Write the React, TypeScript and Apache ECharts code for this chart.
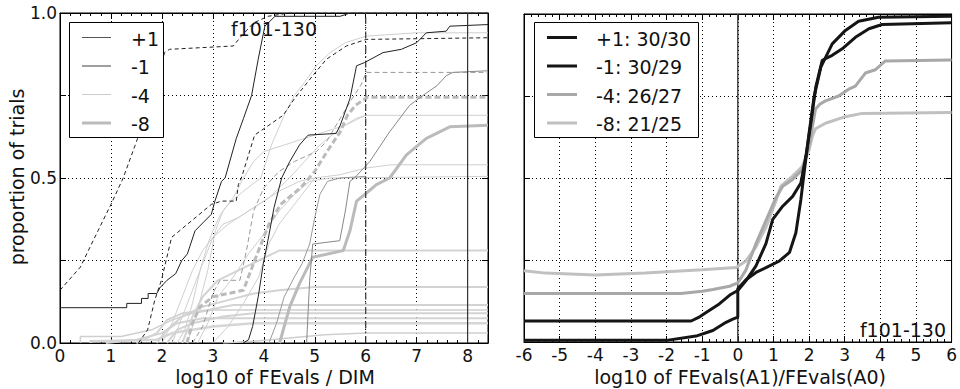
import React, { useEffect, useRef } from "react";
import * as echarts from "echarts";

const FONT = "'DejaVu Sans', 'Liberation Sans', sans-serif";

// ---------- Left panel: ECDF of run lengths (log10 of FEvals / DIM) ----------
const leftPlusSolid = [[0,0.107],[1.31,0.107],[1.31,0.12],[1.6,0.12],[1.6,0.135],[1.73,0.135],[1.73,0.15],[1.9,0.15],[1.96,0.167],[2.1,0.19],[2.27,0.21],[2.39,0.25],[2.5,0.27],[2.65,0.34],[2.97,0.39],[3.04,0.43],[3.17,0.49],[3.24,0.5],[3.46,0.62],[3.6,0.68],[3.76,0.75],[3.89,0.86],[4.02,0.96],[4.22,0.99],[5.5,0.99],[5.69,1.0],[8.4,1.0]];
const leftPlusDashed = [[0,0.16],[0.4,0.23],[0.65,0.31],[1.0,0.42],[1.24,0.5],[1.5,0.61],[1.8,0.74],[2.0,0.84],[2.05,0.88],[2.15,0.89],[3.4,0.9],[3.56,0.93],[3.8,0.97],[4.08,0.99],[4.5,1.0],[8.4,1.0]];
const leftMinus1Solid = [[3.6,0],[3.7,0.01],[3.78,0.05],[3.89,0.14],[3.99,0.24],[4.08,0.31],[4.2,0.41],[4.35,0.5],[4.51,0.55],[4.7,0.6],[4.87,0.63],[5.42,0.635],[5.5,0.66],[5.69,0.74],[5.82,0.84],[5.98,0.85],[6.34,0.88],[6.7,0.89],[7.0,0.91],[7.19,0.94],[7.58,0.945],[7.65,0.96],[8.4,0.965]];
const leftMinus1Dashed = [[1.54,0],[1.72,0.04],[1.86,0.13],[1.99,0.19],[2.19,0.32],[2.58,0.37],[2.97,0.42],[3.17,0.43],[3.46,0.43],[3.5,0.48],[3.56,0.5],[3.82,0.63],[4.1,0.66],[4.38,0.69],[4.6,0.74],[4.96,0.81],[5.23,0.86],[5.62,0.9],[6.01,0.92],[8.4,0.925]];
const leftGrayDashed = [[2.6,0],[2.8,0.05],[3.0,0.15],[3.14,0.19],[3.53,0.19],[3.66,0.28],[3.8,0.4],[4.0,0.47],[4.3,0.52],[4.6,0.55],[5.03,0.58],[5.23,0.61],[5.42,0.66],[5.69,0.73],[5.9,0.78],[6.01,0.82],[8.4,0.82]];
const leftThickDashed = [[2.49,0],[2.6,0.06],[2.75,0.11],[3.0,0.14],[3.6,0.16],[3.87,0.27],[4.1,0.36],[4.33,0.42],[4.72,0.47],[5.0,0.52],[5.24,0.58],[5.5,0.64],[5.64,0.69],[5.8,0.72],[6.03,0.745],[8.4,0.745]];
const leftThickSolid = [[4.31,0],[4.4,0.05],[4.51,0.11],[4.7,0.18],[4.96,0.26],[5.56,0.28],[5.69,0.34],[5.82,0.43],[5.98,0.45],[6.21,0.48],[6.47,0.5],[6.8,0.57],[7.19,0.62],[7.65,0.655],[8.4,0.66]];
const leftGraySolidC = [[4.84,0],[4.9,0.19],[4.96,0.3],[5.49,0.31],[5.6,0.4],[5.69,0.49],[5.78,0.5],[6.08,0.55],[6.47,0.64],[6.86,0.72],[7.12,0.75],[7.4,0.78],[7.58,0.81],[7.71,0.82],[8.4,0.825]];
const leftGraySolidD = [[4.1,0],[4.25,0.06],[4.4,0.14],[4.6,0.2],[4.75,0.24],[4.9,0.3],[5.0,0.38],[5.1,0.45],[5.25,0.49],[5.5,0.5],[6.0,0.505]];

const light1 = [[2.3,0],[2.45,0.04],[2.6,0.12],[2.75,0.22],[2.9,0.3],[3.0,0.34],[3.15,0.39],[3.3,0.42],[3.6,0.46],[3.94,0.5],[4.15,0.6],[4.4,0.69],[4.6,0.75],[4.8,0.79],[5.03,0.84],[5.3,0.88],[5.6,0.91],[6.01,0.93],[7.0,0.94],[8.4,0.94]];
const light2 = [[2.0,0],[2.2,0.06],[2.4,0.14],[2.6,0.22],[2.8,0.28],[3.0,0.32],[3.3,0.36],[3.7,0.4],[4.1,0.44],[4.5,0.5],[4.8,0.55],[5.1,0.6],[5.5,0.65],[5.8,0.68],[6.0,0.69],[8.4,0.69]];
const light3 = [[2.2,0],[2.4,0.08],[2.6,0.16],[2.8,0.24],[3.0,0.32],[3.2,0.36],[3.5,0.38],[3.9,0.42],[4.3,0.46],[4.7,0.49],[5.0,0.5],[5.5,0.51],[6.0,0.53],[6.5,0.54],[8.4,0.54]];
const light4 = [[2.7,0],[2.9,0.06],[3.1,0.14],[3.4,0.2],[3.7,0.27],[4.0,0.33],[4.3,0.4],[4.6,0.45],[4.9,0.49],[5.3,0.5],[8.4,0.505]];
const light5 = [[2.4,0],[2.6,0.08],[2.8,0.14],[3.1,0.19],[3.5,0.22],[3.9,0.25],[4.3,0.28],[8.4,0.28]];
const light6 = [[1.9,0],[2.1,0.04],[2.4,0.08],[2.8,0.11],[3.3,0.13],[3.8,0.15],[4.3,0.16],[5.0,0.17],[8.4,0.17]];
const light7 = [[1.5,0],[1.9,0.03],[2.1,0.07],[2.4,0.09],[2.9,0.1],[3.4,0.115],[8.4,0.115]];
const light8 = [[0.4,0],[0.4,0.02],[1.2,0.02],[1.8,0.04],[2.2,0.07],[2.6,0.09],[3.0,0.1],[8.4,0.1]];
const light9 = [[2.1,0],[2.3,0.04],[2.6,0.06],[3.2,0.08],[3.8,0.09],[8.4,0.09]];
const light10 = [[0.9,0],[1.5,0.01],[2.0,0.03],[2.3,0.06],[2.8,0.075],[8.4,0.075]];
const light11 = [[0.6,0],[0.6,0.005],[1.9,0.01],[2.2,0.03],[3.0,0.05],[3.8,0.06],[8.4,0.06]];
const light12 = [[3.2,0],[3.8,0.005],[4.5,0.015],[5.2,0.025],[6.0,0.03],[8.4,0.03]];
const light13 = [[2.5,0],[2.7,0.1],[2.9,0.22],[3.05,0.34],[3.2,0.4],[3.4,0.44],[3.6,0.5],[3.8,0.55],[4.0,0.58],[4.4,0.6],[5.0,0.63],[5.6,0.66],[6.0,0.69]];
const light14 = [[3.0,0],[3.3,0.05],[3.6,0.12],[3.9,0.2],[4.1,0.3],[4.3,0.36],[4.5,0.4],[4.7,0.44],[5.0,0.5]];

const leftDashDotX = [6];
const leftSolidX = [8];

// ---------- Right panel: ECDF of run length ratios ----------
const rightPlus1 = [[-6,0.005],[-2,0.005],[-1.17,0.018],[-0.7,0.035],[-0.33,0.06],[-0.14,0.07],[0,0.076],[0,0.162],[0.23,0.19],[0.51,0.212],[0.89,0.232],[1.17,0.247],[1.45,0.273],[1.63,0.333],[1.77,0.434],[1.86,0.515],[2.0,0.636],[2.14,0.747],[2.33,0.838],[2.65,0.909],[3.02,0.95],[3.39,0.978],[3.95,0.99],[6,0.993]];
const rightMinus1 = [[-6,0.064],[-1.31,0.064],[-1.1,0.075],[-0.89,0.09],[-0.52,0.116],[-0.2,0.145],[0,0.157],[0.25,0.19],[0.51,0.232],[0.79,0.3],[0.98,0.374],[1.26,0.414],[1.54,0.444],[1.77,0.485],[1.91,0.566],[2.05,0.667],[2.19,0.778],[2.37,0.859],[2.65,0.874],[2.93,0.894],[3.3,0.929],[3.68,0.955],[4.05,0.968],[6,0.973]];
const rightMinus4 = [[-6,0.148],[-1.6,0.148],[-1.0,0.155],[-0.7,0.16],[-0.23,0.17],[0,0.18],[0.23,0.22],[0.51,0.3],[0.79,0.37],[1.07,0.44],[1.26,0.475],[1.53,0.495],[1.81,0.525],[2.0,0.6],[2.1,0.66],[2.18,0.71],[2.3,0.725],[2.46,0.735],[2.83,0.75],[3.1,0.77],[3.3,0.78],[3.58,0.82],[3.86,0.83],[4.14,0.857],[6,0.86]];
const rightMinus8 = [[-6,0.217],[-5.4,0.21],[-4,0.204],[-2.6,0.21],[-1,0.22],[-0.05,0.227],[0.23,0.247],[0.51,0.29],[0.79,0.35],[1.07,0.43],[1.21,0.475],[1.53,0.505],[1.81,0.535],[2.0,0.585],[2.1,0.63],[2.18,0.65],[2.46,0.667],[3.02,0.687],[3.49,0.697],[6,0.7]];
const rightZeroX = [0];

const leftLegend = ["+1", "-1", "-4", "-8"];
const rightLegend = ["+1: 30/30", "-1: 30/29", "-4: 26/27", "-8: 21/25"];

function App() {
  const ref = useRef<HTMLDivElement>(null);
  useEffect(() => {
    document.body.style.margin = "0";
    const chart = echarts.init(ref.current!, null, { renderer: "svg" });

    const ln = (data: number[][], color: string, width: number, type: any, panel: number, z = 2) => ({
      type: "line",
      xAxisIndex: panel === 0 ? 0 : 2,
      yAxisIndex: panel === 0 ? 0 : 2,
      data,
      showSymbol: false,
      symbol: "none",
      silent: true,
      z,
      lineStyle: { color, width, type, cap: "butt" },
    });

    const lightC = "#cfcfcf";
    const series: any[] = [
      ln(light12, lightC, 1.5, "solid", 0),
      ln(light11, "#d6d6d6", 2.5, "solid", 0),
      ln(light10, "#d3d3d3", 2, "solid", 0),
      ln(light9, "#d3d3d3", 2, "solid", 0),
      ln(light8, lightC, 1.5, "solid", 0),
      ln(light7, "#d3d3d3", 2, "solid", 0),
      ln(light6, "#d3d3d3", 2, "solid", 0),
      ln(light5, "#d3d3d3", 2, "solid", 0),
      ln(light4, lightC, 1, "solid", 0),
      ln(light3, lightC, 1, "solid", 0),
      ln(light2, lightC, 1, "solid", 0),
      ln(light1, lightC, 1, "solid", 0),
      ln(light13, lightC, 1, "solid", 0),
      ln(light14, lightC, 1, "solid", 0),
      ln(leftThickSolid, "#bbbbbb", 3, "solid", 0, 3),
      ln(leftThickDashed, "#bbbbbb", 3, [6, 3], 0, 3),
      ln(leftGraySolidD, "#999999", 1, "solid", 0, 3),
      ln(leftGraySolidC, "#888888", 1, "solid", 0, 3),
      ln(leftGrayDashed, "#999999", 1, [5, 3], 0, 3),
      ln(leftMinus1Dashed, "#222222", 1, [4, 3], 0, 4),
      ln(leftPlusDashed, "#222222", 1, [4, 3], 0, 4),
      ln(leftMinus1Solid, "#222222", 1, "solid", 0, 4),
      ln(leftPlusSolid, "#222222", 1, "solid", 0, 4),
      ...leftDashDotX.map((x) => ln([[x, 0], [x, 1]], "#333333", 1.2, [7, 3, 1.5, 3], 0, 5)),
      ...leftSolidX.map((x) => ln([[x, 0], [x, 1]], "#333333", 1.2, "solid", 0, 5)),
      ...rightZeroX.map((x) => ln([[x, 0], [x, 1]], "#444444", 1.5, "solid", 1, 2)),
      ln(rightMinus8, "#c0c0c0", 3, "solid", 1, 3),
      ln(rightMinus4, "#a8a8a8", 3, "solid", 1, 3),
      ln(rightMinus1, "#151515", 3, "solid", 1, 4),
      ln(rightPlus1, "#151515", 3, "solid", 1, 4),
    ];

    const dotted = { show: true, lineStyle: { color: "#000", width: 1, type: [1, 3] } };
    const tick = { show: true, inside: true, length: 6, lineStyle: { color: "#000", width: 1 } };
    const minor = (n: number) => ({ show: true, splitNumber: n, length: 3, lineStyle: { color: "#000", width: 1 } });
    const axLine = { show: true, onZero: false, lineStyle: { color: "#000", width: 1 } };
    const tickFont = { fontSize: 17, lineHeight: 17, color: "#111", fontFamily: FONT };

    const xBase = (grid: number, min: number, max: number, pos: string, labels: boolean) => ({
      type: "value",
      gridIndex: grid,
      min,
      max,
      interval: 1,
      position: pos,
      axisLine: axLine,
      axisTick: tick,
      minorTick: minor(5),
      splitLine: labels ? dotted : { show: false },
      axisLabel: labels
        ? { show: true, margin: 4, ...tickFont, formatter: (v: number) => (Math.abs(v - Math.round(v)) < 1e-6 ? String(Math.round(v)) : "") }
        : { show: false },
    });
    const yBase = (grid: number, pos: string, labels: boolean) => ({
      type: "value",
      gridIndex: grid,
      min: 0,
      max: 1,
      interval: 0.25,
      position: pos,
      axisLine: axLine,
      axisTick: tick,
      splitLine: pos === "left" ? dotted : { show: false },
      axisLabel: labels
        ? { show: true, margin: 3, ...tickFont, formatter: (v: number) => (Math.abs(v * 2 - Math.round(v * 2)) < 1e-6 ? v.toFixed(1) : "") }
        : { show: false },
    });

    const txt = (text: string, x: number, y: number, align = "center", size = 19, extra: any = {}) => ({
      type: "text",
      x,
      y,
      z: 100,
      ...extra,
      style: { text, fontSize: size, lineHeight: size, fontFamily: FONT, fill: "#111", textAlign: align, textVerticalAlign: "middle" },
    });

    const leftStyles = [
      { c: "#555555", w: 1 },
      { c: "#888888", w: 1.6 },
      { c: "#cccccc", w: 1 },
      { c: "#bbbbbb", w: 3 },
    ];
    const rightStyles = [
      { c: "#151515", w: 3 },
      { c: "#151515", w: 3 },
      { c: "#a8a8a8", w: 3 },
      { c: "#c0c0c0", w: 3 },
    ];
    const legY = [37.5, 66, 94.5, 123];

    const graphic: any[] = [
      txt("proportion of trials", 17, 177, "center", 19, { rotation: Math.PI / 2 }),
      txt("log10 of FEvals / DIM", 275, 376.5),
      txt("log10 of FEvals(A1)/FEvals(A0)", 740, 376.5),
      txt("f101-130", 274, 29),
      txt("f101-130", 946, 330, "right"),
      { type: "rect", z: 99, shape: { x: 69.5, y: 22.5, width: 94, height: 115 }, style: { fill: "#fff", stroke: "#000", lineWidth: 1 } },
      { type: "rect", z: 99, shape: { x: 534.5, y: 22.5, width: 164, height: 115 }, style: { fill: "#fff", stroke: "#000", lineWidth: 1 } },
      ...leftLegend.flatMap((t, i) => [
        { type: "line", z: 100, shape: { x1: 82, y1: legY[i], x2: 111, y2: legY[i] }, style: { stroke: leftStyles[i].c, lineWidth: leftStyles[i].w } },
        txt(t, 131, legY[i] + 1, "left"),
      ]),
      ...rightLegend.flatMap((t, i) => [
        { type: "line", z: 100, shape: { x1: 547, y1: legY[i], x2: 577, y2: legY[i] }, style: { stroke: rightStyles[i].c, lineWidth: rightStyles[i].w } },
        txt(t, 596, legY[i] + 1, "left"),
      ]),
    ];

    chart.setOption({
      animation: false,
      backgroundColor: "#fff",
      grid: [
        { left: 60, top: 13, width: 428, height: 330, show: true, borderColor: "#000", borderWidth: 1 },
        { left: 524, top: 14, width: 429, height: 328, show: true, borderColor: "#000", borderWidth: 1 },
      ],
      xAxis: [
        xBase(0, 0, 8.4, "bottom", true),
        xBase(0, 0, 8.4, "top", false),
        xBase(1, -6, 6, "bottom", true),
        xBase(1, -6, 6, "top", false),
      ],
      yAxis: [
        yBase(0, "left", true),
        yBase(0, "right", false),
        yBase(1, "left", false),
        yBase(1, "right", false),
      ],
      series,
      graphic,
    });
    return () => chart.dispose();
  }, []);
  return <div ref={ref} style={{ position: "fixed", left: 0, top: 0, width: 960, height: 389 }} />;
}

export default App;
